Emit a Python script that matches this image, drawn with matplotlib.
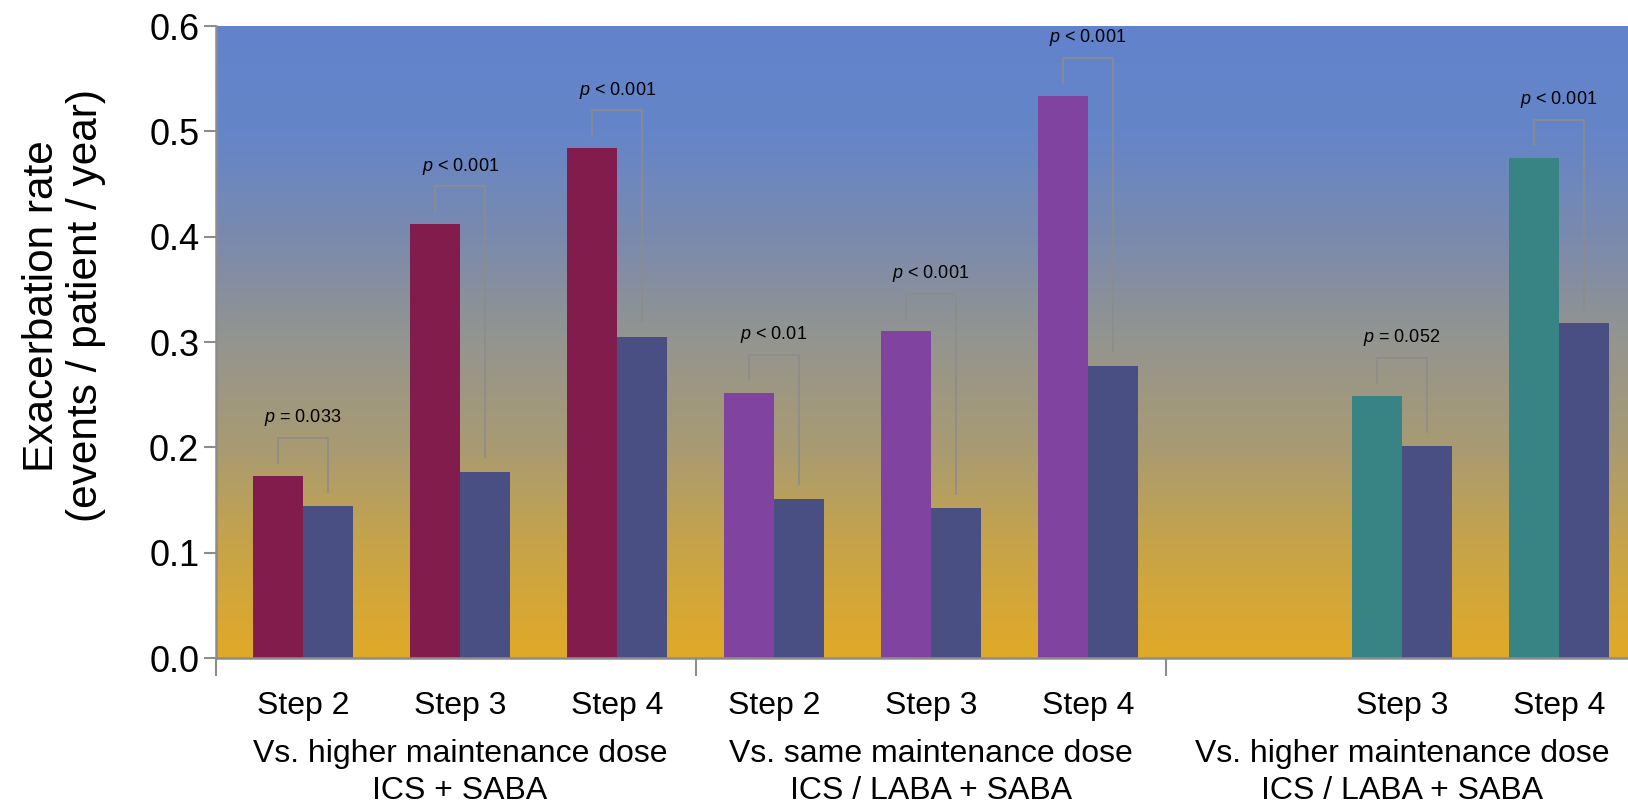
import numpy as np
import matplotlib
matplotlib.use('Agg')
import matplotlib.pyplot as plt
from matplotlib.colors import LinearSegmentedColormap

plt.rcParams['font.family'] = ['Liberation Sans', 'DejaVu Sans']
plt.rcParams['mathtext.fontset'] = 'custom'
plt.rcParams['mathtext.it'] = 'Liberation Sans:italic'
plt.rcParams['mathtext.rm'] = 'Liberation Sans'

#Data (one slot per step, group 3 has no Step 2)
steps = ["Step 2", "Step 3", "Step 4", "Step 2", "Step 3", "Step 4", "", "Step 3", "Step 4"]
as_needed = [0.173, 0.412, 0.484, 0.252, 0.310, 0.534, np.nan, 0.249, 0.475]
comparator = [0.144, 0.177, 0.305, 0.151, 0.142, 0.277, np.nan, 0.201, 0.318]
p_text = ["= 0.033", "< 0.001", "< 0.001", "< 0.01", "< 0.001", "< 0.001", "", "= 0.052", "< 0.001"]
group_labels = ["Vs. higher maintenance dose\nICS + SABA",
                "Vs. same maintenance dose\nICS / LABA + SABA",
                "Vs. higher maintenance dose\nICS / LABA + SABA"]
group_colors = ["#821C4C", "#8044A0", "#388383"]
comp_color = "#494F82"
gray = "#8C8C8C"

x = np.arange(len(steps))
w = 0.32
xlim = (-0.555, 8.44)

fig = plt.figure(figsize=(16.28, 8.07), dpi=100)
ax = fig.add_axes([216/1628, 149/807, 1 - 216/1628, (658 - 26)/807])

#Gradient background
cmap = LinearSegmentedColormap.from_list('bg', [
    (0.0, "#E0AA28"), (0.17, "#C8A447"), (0.33, "#A99B72"),
    (0.5, "#94958F"), (0.67, "#7A8AAE"), (0.83, "#6585C8"), (1.0, "#6283CC")])
grad = np.linspace(1, 0, 256).reshape(-1, 1)
ax.imshow(grad, cmap=cmap, extent=(xlim[0], xlim[1], 0, 0.6), aspect='auto', zorder=0)

colors = [group_colors[i // 3] for i in range(len(steps))]
ax.bar(x - w/2, as_needed, w, color=colors, zorder=2)
ax.bar(x + w/2, comparator, w, color=comp_color, zorder=2)

#Significance brackets
for i in range(len(steps)):
    if np.isnan(as_needed[i]):
        continue
    a, b = as_needed[i], comparator[i]
    top = max(a, b) + 0.036
    ax.plot([x[i] - w/2, x[i] - w/2, x[i] + w/2, x[i] + w/2],
            [a + 0.012, top, top, b + 0.014], color=gray, lw=1.2, zorder=3)
    ax.text(x[i], top + 0.009, r"$p$ " + p_text[i], ha='center', va='bottom',
            fontsize=13, zorder=3)

ax.set_xlim(xlim)
ax.set_ylim(0, 0.6)
ax.set_yticks(np.arange(0, 0.61, 0.1))
ax.set_yticklabels(["%.1f" % v for v in np.arange(0, 0.61, 0.1)], fontsize=26)
ax.tick_params(axis='y', direction='out', length=9, width=1.5, color=gray, pad=3)

ax.set_xticks(x)
ax.set_xticklabels(steps, fontsize=23)
ax.tick_params(axis='x', which='major', length=0, pad=24)
ax.set_xticks([xlim[0], 2.5, 5.5], minor=True)
ax.tick_params(axis='x', which='minor', direction='out', length=13, width=1.5, color=gray)

for s in ['top', 'right']:
    ax.spines[s].set_visible(False)
for s in ['left', 'bottom']:
    ax.spines[s].set_color(gray)
    ax.spines[s].set_linewidth(1.8)

for g, lab in enumerate(group_labels):
    ax.text(x[g*3 + 1], -0.109, lab, ha='center', va='center', fontsize=23,
            linespacing=1.3, clip_on=False)

fig.text(64/1628, 1 - 306/807, "Exacerbation rate\n(events / patient / year)",
         rotation=90, ha='center', va='center', fontsize=30.5, multialignment='center',
         linespacing=1.15)

fig.savefig('out.png', dpi=100)
